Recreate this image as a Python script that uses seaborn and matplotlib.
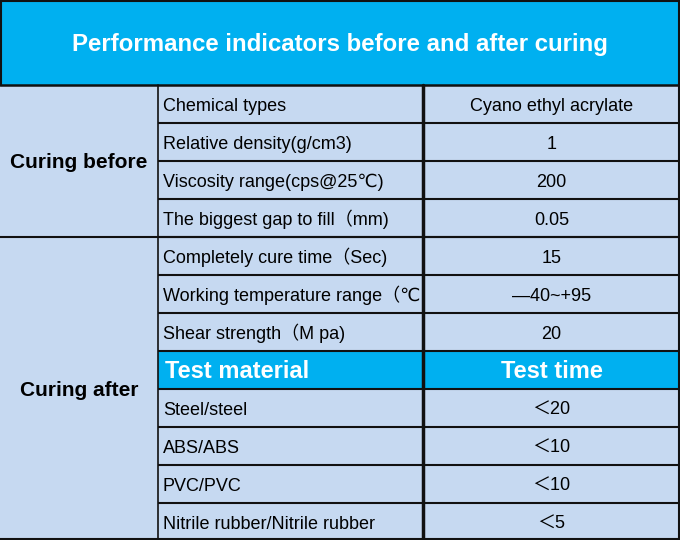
import matplotlib
matplotlib.use("Agg")
import matplotlib.pyplot as plt
from matplotlib.patches import Rectangle
import seaborn as sns

sns.set_theme(style="white")
plt.rcParams['font.family'] = ['Liberation Sans', 'DejaVu Sans', 'Noto Sans CJK SC']

title = "Performance indicators before and after curing"
group_labels = ["Curing before", "Curing after"]
group_sizes = [4, 8]
param_names = [
    "Chemical types",
    "Relative density(g/cm3)",
    "Viscosity range(cps@25℃)",
    "The biggest gap to fill（mm)",
    "Completely cure time（Sec)",
    "Working temperature range（℃",
    "Shear strength（M pa)",
]
param_values = ["Cyano ethyl acrylate", "1", "200", "0.05", "15", "—40~+95", "20"]
test_header = ["Test material", "Test time"]
materials = ["Steel/steel", "ABS/ABS", "PVC/PVC", "Nitrile rubber/Nitrile rubber"]
test_times = ["＜20", "＜10", "＜10", "＜5"]

HEAD = "#00B0F0"
CELL = "#C6D9F1"
LINE = "#111111"

W, H = 680, 540
fig = plt.figure(figsize=(6.8, 5.4), dpi=100)
ax = fig.add_axes([0, 0, 1, 1])
ax.set_xlim(0, W)
ax.set_ylim(H, 0)
ax.axis("off")

x0, x1, x2, x3 = 0, 158, 423, 680
top = 85
rh = 38
dy = 2

# title band
ax.add_patch(Rectangle((0, 0), W, top, facecolor=HEAD, edgecolor="none"))
ax.text(W / 2, top / 2 + dy, title, ha="center", va="center", color="white",
        fontsize=17.3, fontweight="bold")

rows = list(zip(param_names, param_values)) + [tuple(test_header)] + list(zip(materials, test_times))
nrows = len(rows)
ax.add_patch(Rectangle((0, top), W, nrows * rh, facecolor=CELL, edgecolor="none"))

hdr_idx = len(param_names)
for i, (a, b) in enumerate(rows):
    y = top + i * rh
    if i == hdr_idx:
        ax.add_patch(Rectangle((x1, y), x3 - x1, rh, facecolor=HEAD, edgecolor="none"))
        yb = y + 26.5
        ax.text(x1 + 7, yb, a, ha="left", va="baseline", color="white", fontsize=17, fontweight="bold")
        ax.text((x2 + x3) / 2, yb, b, ha="center", va="baseline", color="white", fontsize=17, fontweight="bold")
    else:
        yb = y + 25.7
        ax.text(x1 + 5, yb, a, ha="left", va="baseline", color="#000000", fontsize=13)
        ax.text((x2 + x3) / 2, yb, b, ha="center", va="baseline", color="#000000", fontsize=13)
    if i > 0:
        ax.plot([x1, x3], [y, y], color=LINE, lw=1.5, solid_capstyle="butt")

# group labels
start = 0
for lab, n in zip(group_labels, group_sizes):
    ys = top + start * rh
    ye = ys + n * rh
    ax.text(x1 / 2, (ys + ye) / 2 + dy, lab, ha="center", va="center", color="#000000",
            fontsize=15, fontweight="bold")
    if start > 0:
        ax.plot([x0, x3], [ys, ys], color=LINE, lw=1.5, solid_capstyle="butt")
    start += n

# frame lines
ax.plot([x0, x3], [top, top], color=LINE, lw=1.8)
ax.plot([x1, x1], [top, H], color=LINE, lw=1.2)
ax.plot([x2, x2], [top, H], color=LINE, lw=2.5)
ax.plot([0, W], [0.8, 0.8], color=LINE, lw=1.5)
ax.plot([0.8, 0.8], [0, top], color=LINE, lw=1.5)
ax.plot([W - 0.8, W - 0.8], [0, H], color=LINE, lw=1.5)
ax.plot([0, W], [H - 0.8, H - 0.8], color=LINE, lw=1.5)

fig.savefig("out.png", dpi=100)
